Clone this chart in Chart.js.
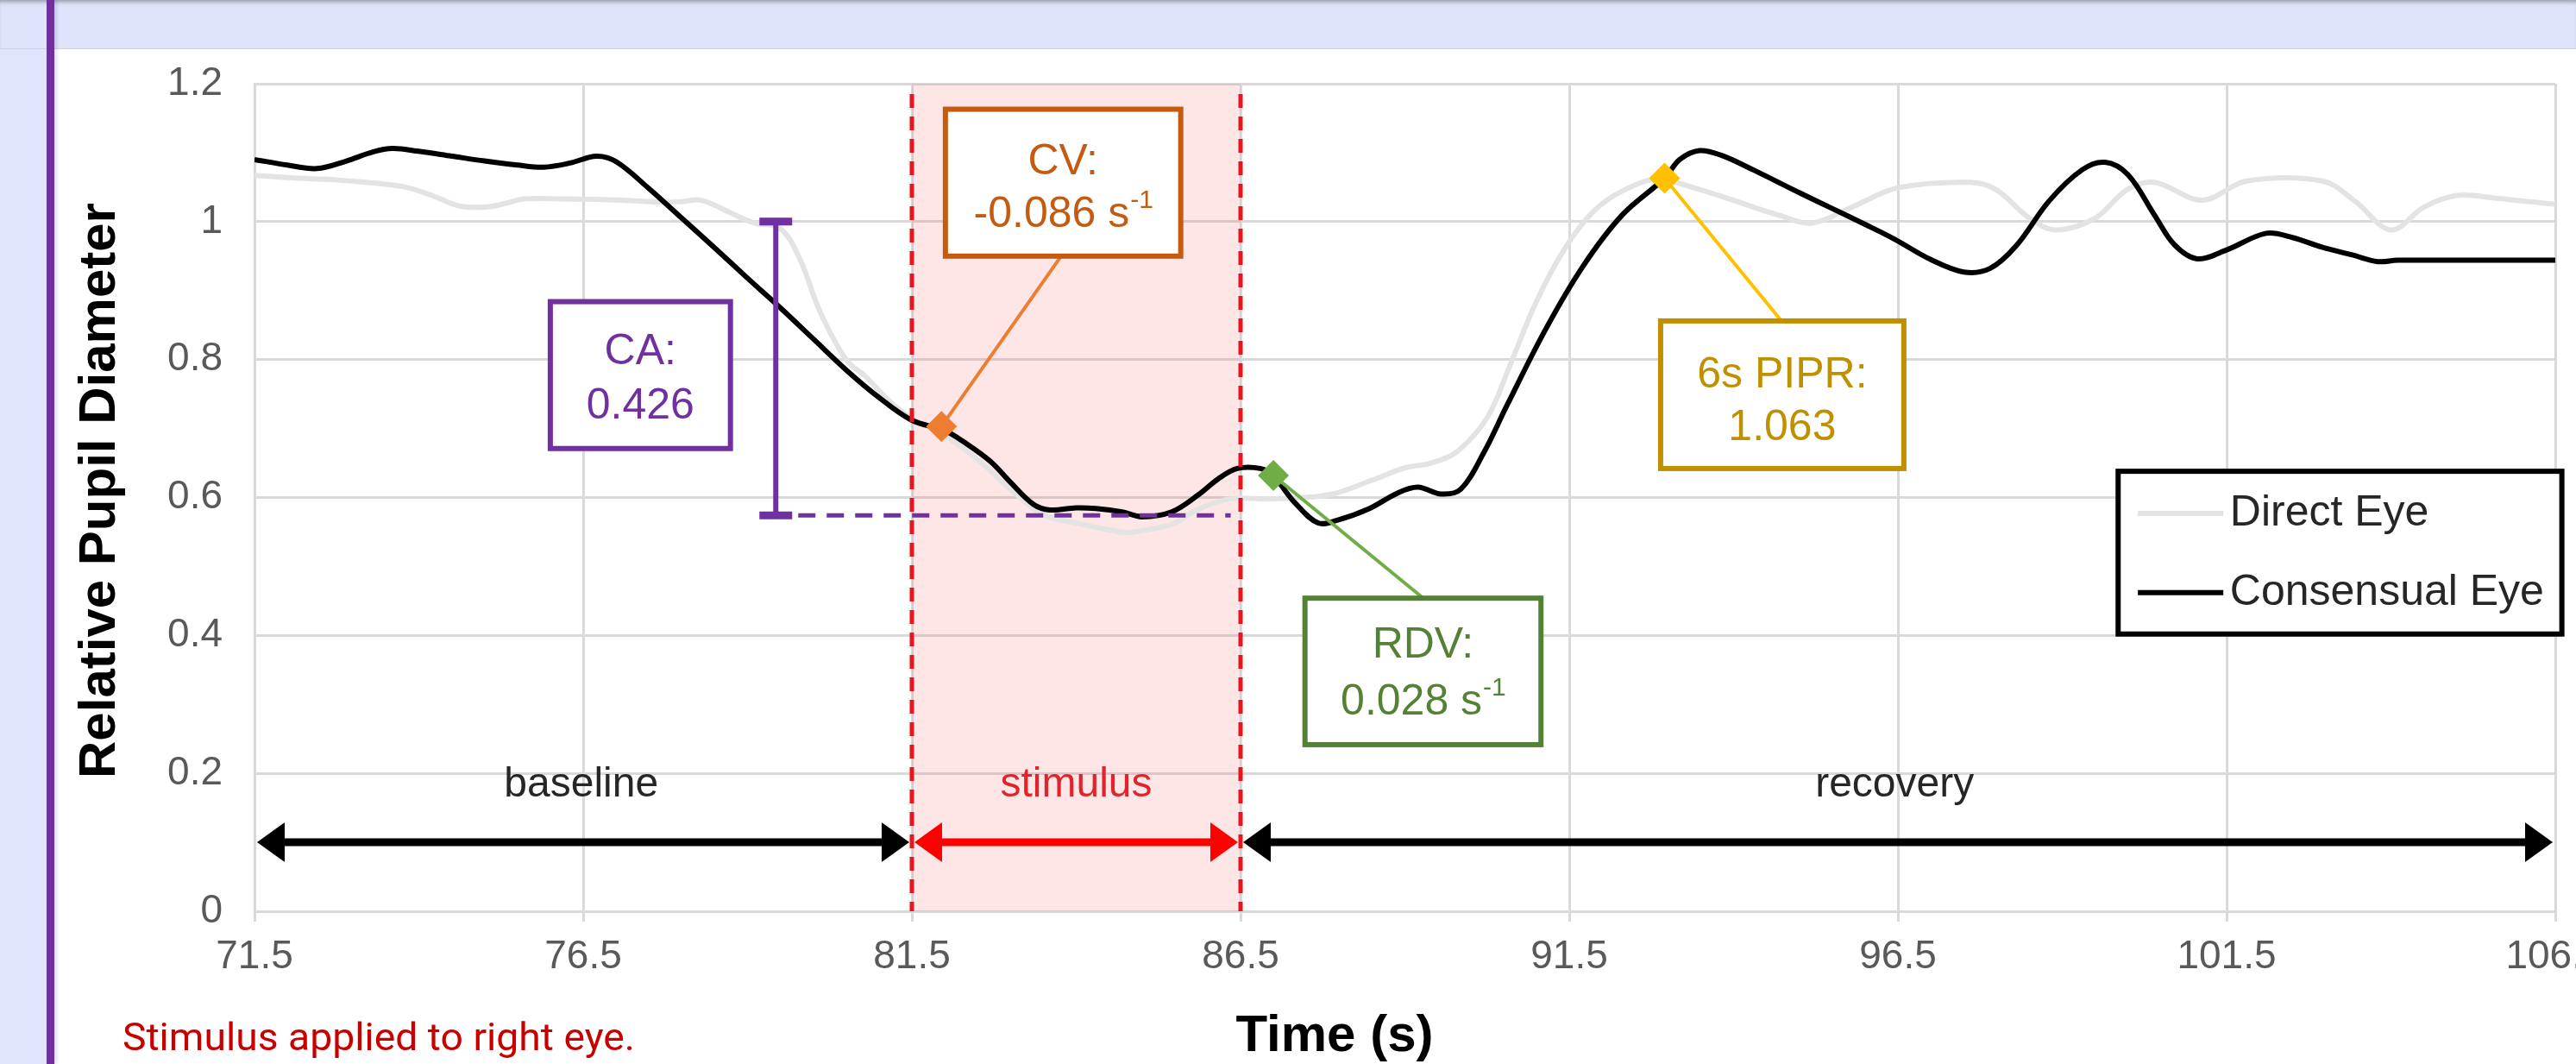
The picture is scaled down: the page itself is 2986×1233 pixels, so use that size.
<!DOCTYPE html>
<html>
<head>
<meta charset="utf-8">
<script src="https://cdn.jsdelivr.net/npm/chart.js@4.4.1/dist/chart.umd.min.js"></script>
<style>
  html, body { margin: 0; padding: 0; width: 2986px; height: 1233px; overflow: hidden; background: #e1e5fb; }
  #topband { position: absolute; left: 0; top: 0; width: 2986px; height: 56px; background: #e0e4fb;
             box-shadow: inset 0 5px 5px -3px rgba(0,0,0,0.35); border-bottom: 1px solid #cdd1e6; }
  #bar { position: absolute; left: 54px; top: 0; width: 9px; height: 1233px; background: #7030a0;
         box-shadow: 3px 0 4px rgba(0,0,0,0.12); }
  #panel { position: absolute; left: 63px; top: 57px; width: 2923px; height: 1176px; background: #fff; }
  #wrap { position: absolute; left: 0; top: 0; width: 3060px; height: 1233px; }
  #note { position: absolute; left: 142px; top: 1179px; font-family: Roboto, sans-serif; font-size: 45px;
          line-height: 45px; color: #c80000; white-space: nowrap; transform-origin: 0 0; }
</style>
</head>
<body>
<div id="topband"></div>
<div id="panel"></div>
<div id="bar"></div>
<div id="wrap"><canvas id="chart" width="3060" height="1233"></canvas></div>
<div id="note">Stimulus applied to right eye.</div>
<script>
  // axis ticks
  const xTicks = [71.5, 76.5, 81.5, 86.5, 91.5, 96.5, 101.5, 106.5];
  const yTicks = [0, 0.2, 0.4, 0.6, 0.8, 1.0, 1.2];

  // Consensual eye (black)
  const consT = [71.5, 72.0, 72.45, 72.9, 73.3, 73.6, 74.0, 74.5, 75.0, 75.5,
    75.9, 76.3, 76.7, 77.0, 77.5, 78.0, 78.5, 79.0, 79.5, 80.0,
    80.5, 81.0, 81.5, 82.0, 82.3, 82.7, 83.0, 83.35, 83.6, 84.0,
    84.3, 84.7, 85.0, 85.45, 85.86, 86.16, 86.45, 86.8, 87.0, 87.33,
    87.68, 87.97, 88.44, 88.9, 89.2, 89.55, 89.85, 90.2, 90.55, 91.13,
    91.7, 92.3, 92.95, 93.18, 93.48, 93.82, 94.3, 95.0, 95.5, 96.0,
    96.44, 97.0, 97.5, 97.9, 98.3, 98.8, 99.3, 99.65, 100.0, 100.4,
    100.7, 101.05, 101.5, 102.1, 102.5, 102.95, 103.4, 103.8, 104.1, 105.0, 106.5];
  const consV = [1.090, 1.082, 1.077, 1.088, 1.101, 1.106, 1.102, 1.095, 1.088, 1.082,
    1.079, 1.085, 1.095, 1.087, 1.048, 1.005, 0.962, 0.918, 0.875, 0.830,
    0.785, 0.745, 0.712, 0.697, 0.680, 0.652, 0.622, 0.590, 0.582, 0.585,
    0.584, 0.579, 0.572, 0.579, 0.604, 0.627, 0.642, 0.642, 0.631, 0.592,
    0.563, 0.567, 0.583, 0.607, 0.615, 0.605, 0.612, 0.665, 0.733, 0.842,
    0.934, 1.009, 1.063, 1.090, 1.103, 1.096, 1.075, 1.042, 1.019, 0.996,
    0.975, 0.945, 0.927, 0.932, 0.965, 1.030, 1.075, 1.086, 1.068, 1.010,
    0.967, 0.946, 0.959, 0.983, 0.977, 0.963, 0.952, 0.942, 0.944, 0.944, 0.944];

  // Direct eye (light grey)
  const dirT = [71.5, 72.0, 72.65, 73.3, 73.8, 74.2, 74.6, 75.0, 75.3, 75.6,
    76.2, 76.8, 77.3, 77.7, 78.0, 78.3, 78.76, 79.1, 79.5, 79.8,
    80.1, 80.5, 80.8, 81.1, 81.5, 82.0, 82.5, 83.0, 83.5, 84.0,
    84.5, 84.77, 85.0, 85.45, 85.86, 86.33, 87.0, 87.85, 88.5, 89.0,
    89.4, 89.8, 90.26, 90.6, 91.0, 91.42, 91.85, 92.3, 92.83, 93.5,
    93.9, 94.7, 95.2, 95.8, 96.5, 97.6, 98.0, 98.5, 98.9, 99.5,
    99.98, 100.4, 101.13, 101.8, 102.96, 103.45, 104.0, 104.5, 105.0, 105.6, 106.5];
  const dirV = [1.067, 1.064, 1.061, 1.056, 1.050, 1.038, 1.023, 1.021, 1.026, 1.033,
    1.033, 1.032, 1.030, 1.028, 1.029, 1.031, 1.012, 0.998, 0.990, 0.945,
    0.870, 0.800, 0.775, 0.745, 0.714, 0.690, 0.655, 0.612, 0.575, 0.563,
    0.553, 0.549, 0.552, 0.561, 0.583, 0.598, 0.598, 0.604, 0.625, 0.643,
    0.650, 0.667, 0.717, 0.792, 0.884, 0.959, 1.013, 1.044, 1.061, 1.046,
    1.034, 1.009, 0.998, 1.021, 1.049, 1.057, 1.046, 1.005, 0.988, 1.005,
    1.046, 1.057, 1.031, 1.059, 1.059, 1.030, 0.988, 1.021, 1.038, 1.034, 1.025];

  // metric markers (CV, RDV, 6s PIPR)
  const markerT = [81.95, 87.0, 92.95];
  const markerV = [0.703, 0.632, 1.063];
  const markerColors = ["#ed7d31", "#70ad47", "#ffc000"];

  // constriction amplitude bar
  const caT = 79.43;
  const caTop = 1.0;
  const caBottom = 0.574;
  const caDashEnd = 86.35;

  // phases
  const phaseNames = ["baseline", "stimulus", "recovery"];
  const phaseStart = [71.5, 81.5, 86.5];
  const phaseEnd = [81.5, 86.5, 106.5];
  const phaseLabelT = [76.47, 84.0, 96.45];
  const phaseColors = ["#000000", "#ff0000", "#000000"];
  const phaseTextColors = ["#262626", "#e0242c", "#262626"];

  const FONT = "'Liberation Sans', Arial, sans-serif";

  // annotation boxes, placed in axis units
  const boxes = [
    { lines: ["CA:", "0.426"], color: "#7030a0", text: "#7030a0",
      t0: 76.0, t1: 78.74, v0: 0.884, v1: 0.671, lineV: [0.811, 0.732] },
    { lines: ["CV:", ["-0.086 s", "-1"]], color: "#c55a11", text: "#c55a11",
      t0: 82.01, t1: 85.59, v0: 1.163, v1: 0.950, lineV: [1.086, 1.009],
      leader: { t: 83.77, v: 0.950, m: 0 } },
    { lines: ["RDV:", ["0.028 s", "-1"]], color: "#548235", text: "#548235",
      t0: 87.48, t1: 91.07, v0: 0.454, v1: 0.2416, lineV: [0.385, 0.302],
      leader: { t: 89.28, v: 0.454, m: 1 } },
    { lines: ["6s PIPR:", "1.063"], color: "#bf9000", text: "#bf9000",
      t0: 92.89, t1: 96.59, v0: 0.856, v1: 0.642, lineV: [0.777, 0.700],
      leader: { t: 94.73, v: 0.856, m: 2 } }
  ];

  const legendItems = ["Direct Eye", "Consensual Eye"];
  const legendColors = ["#e3e3e3", "#000000"];

  function drawArrow(ctx, xa, xb, yy, color) {
    const hl = 32, hw = 23;
    ctx.strokeStyle = color;
    ctx.fillStyle = color;
    ctx.lineWidth = 9;
    ctx.setLineDash([]);
    ctx.beginPath();
    ctx.moveTo(xa + hl * 0.8, yy);
    ctx.lineTo(xb - hl * 0.8, yy);
    ctx.stroke();
    ctx.beginPath();
    ctx.moveTo(xa, yy);
    ctx.lineTo(xa + hl, yy - hw);
    ctx.lineTo(xa + hl, yy + hw);
    ctx.closePath();
    ctx.fill();
    ctx.beginPath();
    ctx.moveTo(xb, yy);
    ctx.lineTo(xb - hl, yy - hw);
    ctx.lineTo(xb - hl, yy + hw);
    ctx.closePath();
    ctx.fill();
  }

  function drawBox(ctx, x, y, b) {
    const l = x.getPixelForValue(b.t0), r = x.getPixelForValue(b.t1);
    const t = y.getPixelForValue(b.v0), bt = y.getPixelForValue(b.v1);
    ctx.fillStyle = "#fff";
    ctx.fillRect(l, t, r - l, bt - t);
    ctx.strokeStyle = b.color;
    ctx.lineWidth = 6;
    ctx.setLineDash([]);
    ctx.strokeRect(l, t, r - l, bt - t);
    ctx.fillStyle = b.text;
    ctx.textBaseline = "middle";
    const cx = (l + r) / 2;
    const mainFont = "50px " + FONT, supFont = "30px " + FONT;
    b.lines.forEach((ln, i) => {
      const yy = y.getPixelForValue(b.lineV[i]);
      if (Array.isArray(ln)) {
        ctx.font = mainFont;
        const w1 = ctx.measureText(ln[0]).width;
        ctx.font = supFont;
        const w2 = ctx.measureText(ln[1]).width;
        const sx = cx - (w1 + w2) / 2;
        ctx.textAlign = "left";
        ctx.font = mainFont;
        ctx.fillText(ln[0], sx, yy);
        ctx.font = supFont;
        ctx.fillText(ln[1], sx + w1 + 1, yy - 17);
      } else {
        ctx.textAlign = "center";
        ctx.font = mainFont;
        ctx.fillText(ln, cx, yy);
      }
    });
  }

  const overlay = {
    id: "overlay",
    beforeDatasetsDraw(chart) {
      const { ctx, chartArea: a, scales: { x } } = chart;
      const x0 = x.getPixelForValue(phaseStart[1]), x1 = x.getPixelForValue(phaseEnd[1]);
      ctx.save();
      ctx.fillStyle = "rgba(250, 60, 60, 0.13)";
      ctx.fillRect(x0, a.top, x1 - x0, a.bottom - a.top);
      ctx.restore();
    },
    afterDatasetDraw(chart, args) {
      // leader lines go above the curves but below the markers
      if (args.index !== 3) return;
      const { ctx, scales: { x, y } } = chart;
      ctx.save();
      ctx.lineWidth = 4;
      boxes.forEach((b) => {
        if (!b.leader) return;
        const m = b.leader.m;
        ctx.strokeStyle = markerColors[m];
        ctx.beginPath();
        ctx.moveTo(x.getPixelForValue(b.leader.t), y.getPixelForValue(b.leader.v));
        ctx.lineTo(x.getPixelForValue(markerT[m]), y.getPixelForValue(markerV[m]));
        ctx.stroke();
      });
      ctx.restore();
    },
    afterDatasetsDraw(chart) {
      const { ctx, chartArea: a, scales: { x, y } } = chart;
      ctx.save();

      // stimulus borders
      ctx.strokeStyle = "#e8141e";
      ctx.lineWidth = 5;
      ctx.setLineDash([16, 10]);
      [phaseStart[1], phaseEnd[1]].forEach((t) => {
        const px = x.getPixelForValue(t);
        ctx.beginPath();
        ctx.moveTo(px, a.top + 12);
        ctx.lineTo(px, a.bottom);
        ctx.stroke();
      });

      // phase arrows + labels
      const ay = y.getPixelForValue(0.1);
      phaseNames.forEach((name, i) => {
        drawArrow(ctx, x.getPixelForValue(phaseStart[i]) + 3, x.getPixelForValue(phaseEnd[i]) - 3, ay, phaseColors[i]);
        ctx.font = "48px " + FONT;
        ctx.fillStyle = phaseTextColors[i];
        ctx.textAlign = "center";
        ctx.textBaseline = "alphabetic";
        ctx.fillText(name, x.getPixelForValue(phaseLabelT[i]), y.getPixelForValue(0.1665));
      });

      // constriction amplitude bar
      const cx = x.getPixelForValue(caT);
      const yt = y.getPixelForValue(caTop), yb = y.getPixelForValue(caBottom);
      ctx.setLineDash([]);
      ctx.strokeStyle = "#7030a0";
      ctx.lineWidth = 6;
      ctx.beginPath();
      ctx.moveTo(cx, yt);
      ctx.lineTo(cx, yb);
      ctx.stroke();
      ctx.lineWidth = 9;
      ctx.beginPath();
      ctx.moveTo(cx - 19, yt);
      ctx.lineTo(cx + 19, yt);
      ctx.moveTo(cx - 19, yb);
      ctx.lineTo(cx + 19, yb);
      ctx.stroke();
      ctx.lineWidth = 5;
      ctx.setLineDash([20, 13]);
      ctx.beginPath();
      ctx.moveTo(cx + 26, yb);
      ctx.lineTo(x.getPixelForValue(caDashEnd), yb);
      ctx.stroke();
      ctx.setLineDash([]);

      boxes.forEach((b) => drawBox(ctx, x, y, b));

      // legend
      const ll = x.getPixelForValue(99.85), lr = x.getPixelForValue(106.6);
      const lt = y.getPixelForValue(0.638), lb = y.getPixelForValue(0.402);
      ctx.fillStyle = "#fff";
      ctx.fillRect(ll, lt, lr - ll, lb - lt);
      ctx.strokeStyle = "#000";
      ctx.lineWidth = 6;
      ctx.strokeRect(ll, lt, lr - ll, lb - lt);
      const rowV = [0.577, 0.462];
      legendItems.forEach((name, i) => {
        const ry = y.getPixelForValue(rowV[i]);
        ctx.strokeStyle = legendColors[i];
        ctx.lineWidth = 6;
        ctx.beginPath();
        ctx.moveTo(x.getPixelForValue(100.15), ry);
        ctx.lineTo(x.getPixelForValue(101.45), ry);
        ctx.stroke();
        ctx.fillStyle = "#262626";
        ctx.font = "50px " + FONT;
        ctx.textAlign = "left";
        ctx.textBaseline = "middle";
        ctx.fillText(name, x.getPixelForValue(101.55), ry);
      });

      // axis titles
      ctx.fillStyle = "#000";
      ctx.font = "bold 60px " + FONT;
      ctx.textAlign = "center";
      ctx.textBaseline = "alphabetic";
      ctx.fillText("Time (s)", a.left + 1252, a.bottom + 162);
      ctx.save();
      ctx.translate(a.left - 162, (a.top + a.bottom) / 2 - 8);
      ctx.rotate(-Math.PI / 2);
      ctx.fillText("Relative Pupil Diameter", 0, 0);
      ctx.restore();

      ctx.restore();
    }
  };

  const toPts = (ts, vs) => ts.map((t, i) => ({ x: t, y: vs[i] }));

  const markerSets = markerT.map((t, i) => ({
    data: [{ x: t, y: markerV[i] }],
    pointStyle: "rectRot",
    pointRadius: 18,
    backgroundColor: markerColors[i],
    borderColor: markerColors[i],
    borderWidth: 0,
    showLine: false
  }));

  new Chart(document.getElementById("chart"), {
    type: "scatter",
    data: {
      datasets: [
        ...markerSets,
        { label: "Consensual Eye", data: toPts(consT, consV), showLine: true, borderColor: "#000",
          borderWidth: 6, pointRadius: 0, tension: 0.35 },
        { label: "Direct Eye", data: toPts(dirT, dirV), showLine: true, borderColor: "#e3e3e3",
          borderWidth: 6, pointRadius: 0, tension: 0.35 }
      ]
    },
    options: {
      responsive: false,
      animation: false,
      devicePixelRatio: 1,
      layout: { padding: { left: 0, top: 97, right: 98, bottom: 0 } },
      plugins: { legend: { display: false }, tooltip: { enabled: false } },
      scales: {
        x: {
          type: "linear",
          min: 71.5,
          max: 106.5,
          afterBuildTicks: (s) => { s.ticks = xTicks.map((v) => ({ value: v })); },
          afterFit: (s) => { s.height = 177; },
          grid: { color: "#d9d9d9", lineWidth: 3, drawTicks: true, tickLength: 12, tickColor: "#d9d9d9" },
          border: { color: "#d9d9d9", width: 3 },
          ticks: { font: { family: FONT, size: 46 }, color: "#595959", padding: 14, maxRotation: 0, autoSkip: false }
        },
        y: {
          min: 0,
          max: 1.2,
          afterBuildTicks: (s) => { s.ticks = yTicks.map((v) => ({ value: v })); },
          afterFit: (s) => { s.width = 295; },
          grid: { color: "#d9d9d9", lineWidth: 3, drawTicks: false },
          border: { color: "#d9d9d9", width: 3 },
          ticks: {
            font: { family: FONT, size: 46 }, color: "#595959", padding: 37,
            callback: (v) => (v === 0 ? "0" : String(Math.round(v * 10) / 10))
          }
        }
      }
    },
    plugins: [overlay]
  });

  // the caption uses a narrow face in the original
  const note = document.getElementById("note");
  const w = note.getBoundingClientRect().width;
  note.style.transform = "scaleX(" + (594 / w) + ")";
</script>
</body>
</html>
